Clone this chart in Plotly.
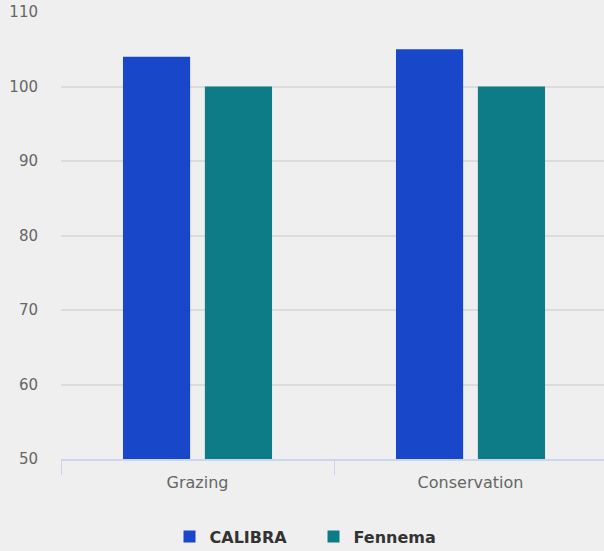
import plotly.graph_objects as go

categories = ["Grazing", "Conservation"]
calibra = [104, 105]
fennema = [100, 100]

fig = go.Figure()
fig.add_trace(go.Bar(name="CALIBRA", x=categories, y=calibra, marker_color="#1947c9", marker_line_width=0))
fig.add_trace(go.Bar(name="Fennema", x=categories, y=fennema, marker_color="#0e7c87", marker_line_width=0))

fig.update_layout(
    width=607, height=551,
    paper_bgcolor="#efefef", plot_bgcolor="#efefef",
    margin=dict(l=61, r=0, t=12, b=92),
    barmode="group", bargap=0.40, bargroupgap=0.18,
    font=dict(family="DejaVu Sans", color="#666666", size=15),
    showlegend=True,
    legend=dict(orientation="h", xref="container", yref="container", x=0.5165, xanchor="center",
                y=0.026, yanchor="middle",
                font=dict(family="DejaVu Sans", size=16, color="#333333", weight="bold"),
                itemwidth=30, entrywidth=99, traceorder="normal"),
)
fig.update_yaxes(range=[50, 110], dtick=10, showgrid=True, gridcolor="#dcdcdc", gridwidth=2,
                 zeroline=False, showline=False, ticks="", ticklabelstandoff=22,
                 tickfont=dict(size=15, color="#666666"))
fig.update_xaxes(showline=True, linecolor="#ccd6eb", linewidth=2, tickson="boundaries",
                 ticks="outside", ticklen=14, tickcolor="#ccd6eb", tickwidth=1,
                 ticklabelstandoff=8,
                 showgrid=False, tickfont=dict(size=16, color="#666666"))

fig.write_html("out.html", config={"displayModeBar": False},
               post_script="document.body.style.margin='0';document.body.style.overflow='hidden';")
